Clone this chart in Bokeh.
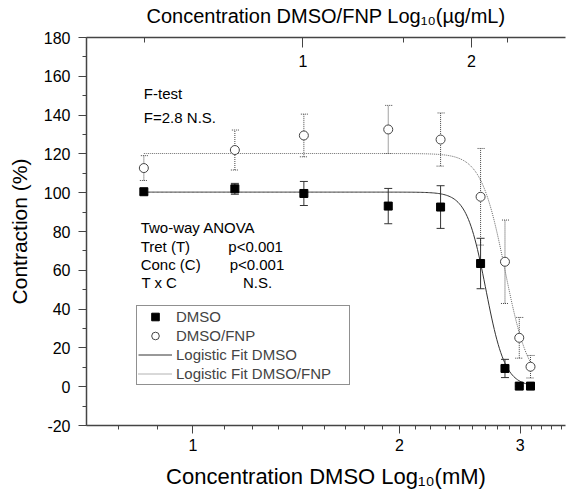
import numpy as np
from bokeh.plotting import figure
from bokeh.models import (Range1d, LogScale, LogAxis, FixedTicker, BasicTickFormatter,
                          SingleIntervalTicker, Whisker, TeeHead, ColumnDataSource,
                          Legend, LegendItem, Label)
from bokeh.embed import file_html
from bokeh.resources import INLINE

# ---- data ----
conc_log = [0.848, 1.151, 1.451, 1.926, 2.296, 2.626, 2.850, 2.990, 3.105]
dmso = [100.5, 102.0, 99.6, 93.1, 92.6, 63.5, 9.4, 0.3, 0.3]
dmso_err = [1.5, 2.8, 6.2, 9.1, 11.0, 13.0, 4.7, 0.0, 0.0]
fnp = [112.7, 122.0, 129.5, 132.6, 127.4, 97.9, 64.4, 25.2, 10.3]
fnp_err = [6.4, 10.3, 11.0, 12.4, 13.7, 24.9, 21.5, 10.5, 5.8]

# logistic fit parameters (A1, A2, x0, p)
fit_dmso = (100.3, 0.0, 2.673, 31.0)
fit_fnp = (120.2, 0.0, 2.85, 25.0)

bottom_ticks = [1, 2, 3]
top_ticks = [1, 2]
top_minor = [0.522, 1.51, 2.32]
y_ticks_interval = 20

FONT = "Liberation Sans"

def logistic(x, A1, A2, x0, pw):
    return A2 + (A1 - A2) / (1.0 + (x / x0) ** pw)

xs = np.geomspace(conc_log[0], conc_log[-1], 300)

p = figure(x_axis_type="log", x_range=Range1d(0.6995, 3.492), y_range=Range1d(-20, 180),
           frame_width=479, frame_height=388, min_border_left=86, min_border_right=5,
           min_border_top=37, min_border_bottom=66,
           output_backend="svg", toolbar_location=None)
p.grid.visible = False
p.outline_line_color = None

src_d = ColumnDataSource(dict(x=conc_log, y=dmso, lo=[a - b for a, b in zip(dmso, dmso_err)],
                              hi=[a + b for a, b in zip(dmso, dmso_err)]))
src_f = ColumnDataSource(dict(x=conc_log, y=fnp, lo=[a - b for a, b in zip(fnp, fnp_err)],
                              hi=[a + b for a, b in zip(fnp, fnp_err)]))

# fit curves
fit_d = p.line(xs, logistic(xs, *fit_dmso), line_color="#333333", line_width=1)
fit_f = p.line(xs, logistic(xs, *fit_fnp), line_color="#666666", line_width=1, line_dash="1 1")

# error bars
wf = Whisker(source=src_f, base="x", upper="hi", lower="lo", dimension="height",
             line_color="#444444", line_width=1, line_dash="1 1",
             upper_head=TeeHead(size=8, line_color="#444444", line_width=1, line_dash="1 1"),
             lower_head=TeeHead(size=8, line_color="#444444", line_width=1, line_dash="1 1"))
wd = Whisker(source=src_d, base="x", upper="hi", lower="lo", dimension="height",
             line_color="#333333", line_width=1,
             upper_head=TeeHead(size=8, line_color="#333333", line_width=1),
             lower_head=TeeHead(size=8, line_color="#333333", line_width=1))
p.add_layout(wf)
p.add_layout(wd)

sq = p.scatter("x", "y", source=src_d, marker="square", size=8, fill_color="black", line_color="black")
ci = p.scatter("x", "y", source=src_f, marker="circle", size=9, fill_color="white",
               line_color="#444444", line_width=1)

# axes
p.xaxis.ticker = FixedTicker(ticks=bottom_ticks,
                             minor_ticks=[m + k / 9 for m in range(0, 4) for k in range(1, 9)])
p.xaxis.formatter = BasicTickFormatter()
p.xaxis.axis_label = "Concentration DMSO Log\u2081\u2080(mM)"
p.yaxis.ticker = SingleIntervalTicker(interval=y_ticks_interval, num_minor_ticks=2)
p.yaxis.major_label_overrides = {-20: "-20"}
p.yaxis.axis_label = "Contraction (%)"

for ax in (p.xaxis[0], p.yaxis[0]):
    ax.axis_line_color = "#444444"
    ax.axis_line_width = 1.5
    ax.major_tick_line_color = "#444444"
    ax.minor_tick_line_color = "#444444"
    ax.major_tick_out = 8
    ax.major_tick_in = 0
    ax.minor_tick_out = 4
    ax.minor_tick_in = 0
    ax.major_label_text_font = FONT
    ax.major_label_text_font_size = "16px"
    ax.major_label_text_color = "black"
    ax.axis_label_text_font = FONT
    ax.axis_label_text_font_style = "normal"
    ax.axis_label_text_color = "black"
p.xaxis.major_label_standoff = 5
p.xaxis.axis_label_standoff = 10
p.xaxis.axis_label_text_font_size = "22px"
p.yaxis.major_label_standoff = 8
p.yaxis.axis_label_standoff = 10
p.yaxis.axis_label_text_font_size = "21px"

p.extra_x_ranges = {"top": Range1d(0.4108, 2.944)}
p.extra_x_scales = {"top": LogScale()}
top_axis = LogAxis(x_range_name="top", ticker=FixedTicker(ticks=top_ticks, minor_ticks=top_minor),
                   formatter=BasicTickFormatter(),
                   axis_label="Concentration DMSO/FNP Log\u2081\u2080(\u00b5g/mL)",
                   axis_line_color="#444444", axis_line_width=1.5,
                   major_tick_line_color="#444444", minor_tick_line_color="#444444",
                   major_tick_in=10, major_tick_out=0, minor_tick_in=5, minor_tick_out=0,
                   major_label_standoff=-29, major_label_text_font=FONT,
                   major_label_text_font_size="16px", major_label_text_color="black",
                   axis_label_text_font=FONT, axis_label_text_font_style="normal",
                   axis_label_text_font_size="20px", axis_label_text_color="black",
                   axis_label_standoff=25)
p.add_layout(top_axis, "above")

# annotations
notes = [
    ("F-test", 0.848, 151.0),
    ("F=2.8 N.S.", 0.848, 138.6),
    ("Two-way ANOVA", 0.839, 81.9),
    ("Tret (T)", 0.839, 72.5),
    ("p<0.001", 1.126, 72.5),
    ("Conc (C)", 0.839, 63.0),
    ("p<0.001", 1.131, 63.0),
    ("T x C", 0.841, 53.6),
    ("N.S.", 1.183, 53.6),
]
for t, x, y in notes:
    p.add_layout(Label(x=x, y=y, text=t, text_font=FONT, text_font_size="15px",
                       text_baseline="middle", text_align="left", text_color="black"))

legend = Legend(items=[LegendItem(label="DMSO", renderers=[sq]),
                       LegendItem(label="DMSO/FNP", renderers=[ci]),
                       LegendItem(label="Logistic Fit DMSO", renderers=[fit_d]),
                       LegendItem(label="Logistic Fit DMSO/FNP", renderers=[fit_f])],
                location=(50, 40), label_text_font=FONT, label_text_font_size="15px",
                glyph_width=34, glyph_height=19, label_height=19, label_width=172,
                spacing=0, padding=1, margin=0, label_standoff=4,
                border_line_color="#222222", border_line_width=1,
                background_fill_color="white", background_fill_alpha=1)
p.add_layout(legend)

open("out.html", "w").write(file_html(p, INLINE))
